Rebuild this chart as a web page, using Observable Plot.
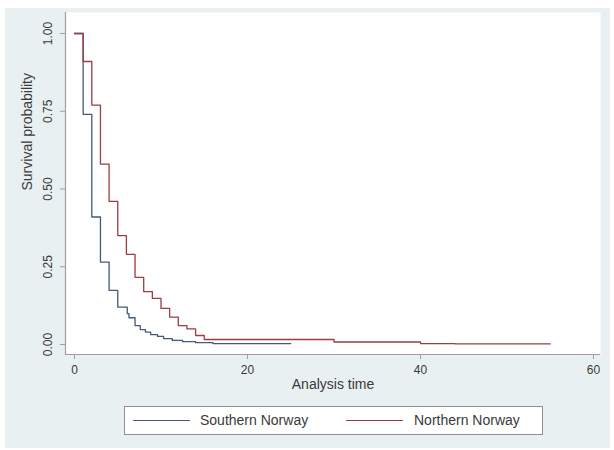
<!DOCTYPE html>
<html><head><meta charset="utf-8">
<script src="https://cdn.jsdelivr.net/npm/d3@7"></script>
<script src="https://cdn.jsdelivr.net/npm/@observablehq/plot@0.6"></script>
<style>
body{margin:0;background:#fff;font-family:"Liberation Sans",Arial,sans-serif;}
#bg{position:absolute;left:5px;top:8px;width:605px;height:440px;background:#e8f0f2;}
#chart{position:absolute;left:0;top:0;}
#legend{position:absolute;left:124px;top:406px;width:417px;height:27px;border:1px solid #8f8f8f;background:#fff;}
.sw{position:absolute;top:13px;width:57px;height:0;border-top:1px solid;}
.lt{position:absolute;top:5px;font-size:14px;color:#3a3a3a;line-height:16px;white-space:nowrap;}
</style></head>
<body>
<div id="bg"></div>
<div id="chart"></div>
<div id="legend"></div>
<script>
const groups = ["Southern Norway", "Northern Norway"];
const colors = ["#44597c", "#9b3d43"];

const timeSouth = [0, 1, 2, 3, 4, 5, 6.1, 6.3, 7, 7.6, 8.2, 8.8, 9.6, 10.3, 11.3, 12.5, 14, 16, 25];
const survSouth = [1, 0.74, 0.41, 0.265, 0.174, 0.12, 0.099, 0.086, 0.061, 0.048, 0.04, 0.032, 0.026, 0.019, 0.013, 0.009, 0.006, 0.003, 0.003];

const timeNorth = [0, 1, 2, 3, 4, 5, 6, 7, 8, 9, 10, 11, 12, 13, 14, 15, 30, 40, 44, 55];
const survNorth = [1, 0.91, 0.77, 0.58, 0.46, 0.35, 0.29, 0.216, 0.17, 0.148, 0.116, 0.088, 0.061, 0.05, 0.029, 0.016, 0.008, 0.003, 0.002, 0.002];

const xTicks = [0, 20, 40, 60];
const yTicks = [0, 0.25, 0.5, 0.75, 1];
const xTitle = "Analysis time";
const yTitle = "Survival probability";

const rows = [
  ...timeSouth.map((t, i) => ({group: groups[0], t, s: survSouth[i]})),
  ...timeNorth.map((t, i) => ({group: groups[1], t, s: survNorth[i]}))
];

const W = 614, H = 400;
const mL = 65, mR = 14, mT = 12, mB = 46;
const xR = [74, 593], yR = [344, 33];
const axisColor = "#a79c9c";
// data values at the axis-line pixel positions
const xLine = (mL - xR[0]) * 60 / (xR[1] - xR[0]);
const yLine = ((H - mB) - yR[0]) / (yR[1] - yR[0]);

const chart = Plot.plot({
  width: W, height: H,
  marginLeft: mL, marginRight: mR, marginTop: mT, marginBottom: mB,
  style: {background: "transparent", fontFamily: "Liberation Sans, Arial, sans-serif", color: "#3a3a3a"},
  x: {domain: [0, 60], range: xR},
  y: {domain: [0, 1], range: yR},
  color: {domain: groups, range: colors},
  marks: [
    Plot.frame({fill: "white", stroke: null}),
    Plot.ruleX([xLine], {stroke: axisColor, strokeWidth: 1.2}),
    Plot.ruleY([yLine], {stroke: axisColor, strokeWidth: 1.2}),
    Plot.axisX({ticks: xTicks, tickSize: 5, tickPadding: 6, fontSize: 12, stroke: axisColor, label: null, tickFormat: d3.format("d")}),
    Plot.axisY({ticks: yTicks, tickSize: 5, tickPadding: 9, fontSize: 12, stroke: axisColor, label: null, tickRotate: -90, tickFormat: d3.format(".2f")}),
    Plot.text([xTitle], {frameAnchor: "bottom", dy: 34, fontSize: 14, fill: "#3a3a3a"}),
    Plot.text([yTitle], {frameAnchor: "left", dx: -38, dy: 7, rotate: -90, fontSize: 14, fill: "#3a3a3a"}),
    Plot.line(rows, {x: "t", y: "s", z: "group", stroke: "group", curve: "step-after", strokeWidth: 1.3})
  ]
});
document.getElementById("chart").append(chart);

const lg = document.getElementById("legend");
const swX = [8, 221], txX = [75, 289];
groups.forEach((g, i) => {
  const sw = document.createElement("div");
  sw.className = "sw"; sw.style.left = swX[i] + "px"; sw.style.borderTopColor = colors[i];
  const tx = document.createElement("div");
  tx.className = "lt"; tx.style.left = txX[i] + "px"; tx.textContent = g;
  lg.append(sw, tx);
});
</script>
</body></html>
